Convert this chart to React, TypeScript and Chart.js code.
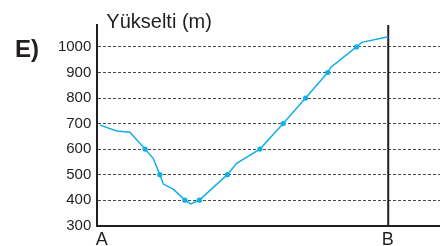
import { useEffect, useRef } from "react";
import { Chart, registerables } from "chart.js";

Chart.register(...registerables);

// Distance along the profile (A = 0, B = 10) and elevation in metres
const distances = [0.09, 0.67, 1.12, 1.64, 1.92, 2.15, 2.27, 2.61, 3.01, 3.21, 3.51, 4.47, 4.79, 5.59, 6.39, 7.16, 7.92, 8.03, 8.91, 9.09, 10.0];
const elevations = [694, 671, 666, 600, 564, 500, 463, 443, 400, 385, 400, 500, 544, 600, 700, 800, 900, 921, 1000, 1018, 1040];
// 1 = point drawn with a marker (contour crossing)
const marked = [0, 0, 0, 1, 0, 1, 0, 0, 1, 0, 1, 1, 0, 1, 1, 1, 1, 0, 1, 0, 0];
const yTickValues = [300, 400, 500, 600, 700, 800, 900, 1000];
const yTickLabels = ["300", "400", "500", "600", "700", "800", "900", "1000"];
const pointA = 0;
const pointB = 10;
const endLabels = ["A", "B"];
const axisTitle = "Yükselti (m)";
const panelLabel = "E)";

const FONT = '"Liberation Sans", Arial, Helvetica, sans-serif';
const INK = "#231f20";
const CYAN = "#12aee8";
const Y_MIN = 300;
const Y_MAX = 1086;
const X_MAX = 11.78;

const textPlugin = {
  id: "profileText",
  afterDraw(chart: any) {
    const ctx = chart.ctx;
    const xs = chart.scales.x;
    ctx.save();
    ctx.fillStyle = INK;
    ctx.textBaseline = "alphabetic";
    // panel label
    ctx.font = `bold 24px ${FONT}`;
    ctx.textAlign = "left";
    ctx.fillText(panelLabel, 15, 57);
    // axis title
    ctx.font = `20px ${FONT}`;
    ctx.fillText(axisTitle, xs.getPixelForValue(pointA) + 9, 28);
    // end labels
    ctx.font = `18px ${FONT}`;
    ctx.textAlign = "left";
    ctx.fillText(endLabels[0], xs.getPixelForValue(pointA) - 1.5, 245);
    ctx.textAlign = "center";
    ctx.fillText(endLabels[1], xs.getPixelForValue(pointB) - 0.5, 245);
    ctx.restore();
  },
};

export default function App() {
  const canvasRef = useRef<HTMLCanvasElement | null>(null);

  useEffect(() => {
    if (!canvasRef.current) return;
    const chart = new Chart(canvasRef.current, {
      type: "line",
      data: {
        datasets: [
          {
            data: distances.map((d, i) => ({ x: d, y: elevations[i] })),
            borderColor: CYAN,
            borderWidth: 1.5,
            tension: 0,
            pointRadius: marked.map((m) => (m ? 2.6 : 0)),
            pointBackgroundColor: CYAN,
            pointBorderWidth: 0,
            fill: false,
          },
          {
            data: [
              { x: pointB, y: Y_MIN },
              { x: pointB, y: Y_MAX },
            ],
            borderColor: INK,
            borderWidth: 2,
            pointRadius: 0,
            fill: false,
          },
        ],
      },
      options: {
        animation: false,
        responsive: false,
        devicePixelRatio: 1,
        layout: { padding: { top: 25, right: 0, left: 0, bottom: 0 } },
        plugins: {
          legend: { display: false },
          tooltip: { enabled: false },
          title: { display: false },
        },
        scales: {
          x: {
            type: "linear",
            min: 0,
            max: X_MAX,
            ticks: { display: false },
            grid: { display: false, drawTicks: false },
            border: { display: true, color: INK, width: 2 },
            afterFit: (scale: any) => {
              scale.height = 20.3;
            },
          },
          y: {
            type: "linear",
            min: Y_MIN,
            max: Y_MAX,
            afterBuildTicks: (scale: any) => {
              scale.ticks = yTickValues.map((v) => ({ value: v }));
            },
            ticks: {
              font: { family: FONT, size: 15 },
              color: INK,
              padding: 6,
              callback: (value: any) => {
                const i = yTickValues.indexOf(Number(value));
                return i >= 0 ? yTickLabels[i] : String(value);
              },
            },
            grid: {
              drawTicks: false,
              lineWidth: 1,
              color: (c: any) => (c.tick && c.tick.value === Y_MIN ? "rgba(0,0,0,0)" : "#4a4a4a"),
            },
            border: { display: true, color: INK, width: 2, dash: [3, 2] },
            afterFit: (scale: any) => {
              scale.width = 97.3;
            },
          },
        },
      },
      plugins: [textPlugin],
    });
    return () => chart.destroy();
  }, []);

  return (
    <div style={{ position: "absolute", left: 0, top: 0, width: 440, height: 246, background: "#fff" }}>
      <canvas ref={canvasRef} width={440} height={246} style={{ display: "block" }} />
    </div>
  );
}
